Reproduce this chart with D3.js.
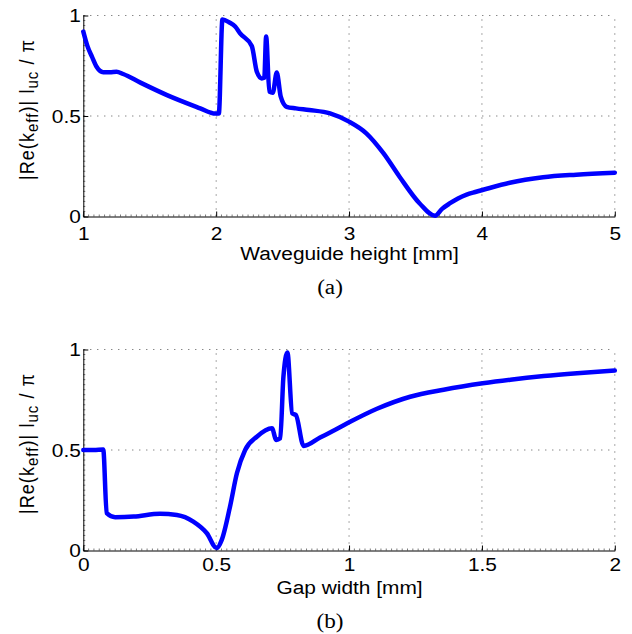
<!DOCTYPE html>
<html>
<head>
<meta charset="utf-8">
<script src="https://cdn.jsdelivr.net/npm/d3@7"></script>
<style>
  body { margin: 0; background: #fff; }
  text { font-family: "Liberation Sans", Arial, sans-serif; fill: #000; }
  .cap { font-family: "Liberation Serif", "Times New Roman", serif; }
</style>
</head>
<body>
<div id="chart"></div>
<script>
// panel (a): waveguide height sweep
var heightX = [1.0, 1.03, 1.065, 1.10, 1.15, 1.2, 1.25, 1.30, 1.43, 1.63, 1.88, 1.98, 2.02,
  2.047, 2.10, 2.143, 2.18, 2.268, 2.306, 2.343, 2.362, 2.376, 2.40, 2.426, 2.456, 2.486, 2.53,
  2.60, 2.70, 2.857, 3.0, 3.13, 3.26, 3.38, 3.53, 3.647, 3.70, 3.76, 3.82, 3.885, 3.95, 4.01,
  4.21, 4.46, 4.71, 5.0];
var heightY = [0.92, 0.85, 0.795, 0.745, 0.718, 0.718, 0.72, 0.709, 0.666, 0.604, 0.538, 0.513, 0.512,
  0.98, 0.965, 0.945, 0.911, 0.848, 0.72, 0.687, 0.69, 0.895, 0.621, 0.616, 0.716, 0.596, 0.546,
  0.538, 0.53, 0.513, 0.472, 0.414, 0.314, 0.198, 0.066, 0.004, 0.038, 0.066, 0.09, 0.109, 0.122, 0.133,
  0.168, 0.195, 0.208, 0.218];

// panel (b): gap width sweep
var gapX = [0.0, 0.04, 0.075, 0.088, 0.12, 0.19, 0.289, 0.352, 0.414, 0.465, 0.502, 0.521, 0.552,
  0.578, 0.609, 0.653, 0.71, 0.726, 0.741, 0.753, 0.768, 0.786, 0.80, 0.829, 0.891, 0.95, 1.004,
  1.105, 1.23, 1.356, 1.503, 1.607, 1.733, 1.858, 2.0];
var gapY = [0.5, 0.5, 0.503, 0.186, 0.166, 0.169, 0.183, 0.177, 0.144, 0.086, 0.012, 0.053, 0.218,
  0.384, 0.5, 0.566, 0.608, 0.55, 0.558, 0.864, 0.985, 0.682, 0.674, 0.52, 0.562, 0.602, 0.64,
  0.705, 0.765, 0.80, 0.832, 0.85, 0.868, 0.882, 0.895];

var yTicks = [0, 0.5, 1];
var heightTicks = [1, 2, 3, 4, 5];
var gapTicks = [0, 0.5, 1, 1.5, 2];

var W = 632, H = 634;
var SX = 1.16; // the figure text is a little wider than tall
var svg = d3.select("#chart").append("svg").attr("width", W).attr("height", H);

var panels = [
  {x: heightX, y: heightY, dom: [1, 5], ticks: heightTicks, minor: 0.04, tickY: 23.5,
   top: 15.5, bottom: 216.5, xlabel: "Waveguide height [mm]", cap: "(a)"},
  {x: gapX, y: gapY, dom: [0, 2], ticks: gapTicks, minor: 0.02, tickY: 21,
   top: 349.5, bottom: 550.5, xlabel: "Gap width [mm]", cap: "(b)"}
];

var left = 83.3, right = 614.8;

function wideText(g, x, y) {
  return g.append("g").attr("transform", "translate(" + x + "," + y + ") scale(" + SX + ",1)")
    .append("text");
}

panels.forEach(function(p) {
  var x = d3.scaleLinear().domain(p.dom).range([left, right]);
  var y = d3.scaleLinear().domain([0, 1]).range([p.bottom, p.top]);
  var g = svg.append("g");

  // dotted grid
  g.selectAll("line.gx").data(p.ticks.slice(1)).enter().append("line")
    .attr("x1", function(d) { return x(d); }).attr("x2", function(d) { return x(d); })
    .attr("y1", p.bottom).attr("y2", p.top)
    .attr("stroke", "#555").attr("stroke-width", 1).attr("stroke-dasharray", "1,6");
  g.selectAll("line.gy").data(yTicks.slice(1)).enter().append("line")
    .attr("y1", function(d) { return y(d); }).attr("y2", function(d) { return y(d); })
    .attr("x1", left).attr("x2", right)
    .attr("stroke", "#555").attr("stroke-width", 1).attr("stroke-dasharray", "1,6");

  // minor ticks
  var minorX = d3.range(p.dom[0], p.dom[1] + 1e-9, p.minor);
  g.selectAll("line.mx").data(minorX).enter().append("line")
    .attr("x1", function(d) { return x(d); }).attr("x2", function(d) { return x(d); })
    .attr("y1", p.bottom).attr("y2", p.bottom - 2)
    .attr("stroke", "#444").attr("stroke-width", 0.7);
  var minorY = d3.range(0, 1 + 1e-9, 0.025);
  g.selectAll("line.my").data(minorY).enter().append("line")
    .attr("y1", function(d) { return y(d); }).attr("y2", function(d) { return y(d); })
    .attr("x1", left).attr("x2", left + 2)
    .attr("stroke", "#444").attr("stroke-width", 0.7);

  // axes
  var xa = d3.axisBottom(x).tickValues(p.ticks).tickSizeInner(-5).tickSizeOuter(0)
    .tickFormat(d3.format("~g"));
  var ya = d3.axisLeft(y).tickValues(yTicks).tickSizeInner(-5).tickSizeOuter(0)
    .tickFormat(d3.format("~g"));
  var gx = g.append("g").attr("transform", "translate(0," + p.bottom + ")").call(xa);
  var gy = g.append("g").attr("transform", "translate(" + left + ",0)").call(ya);
  [gx, gy].forEach(function(a) {
    a.select(".domain").attr("stroke", "#000").attr("stroke-width", 1);
    a.selectAll(".tick line").attr("stroke", "#000");
    a.selectAll(".tick text").style("font-size", "18px")
      .style("font-family", "'Liberation Sans', Arial, sans-serif").attr("fill", "#000")
      .attr("transform", "scale(" + SX + ",1)");
  });
  gx.selectAll(".tick text").attr("dy", null).attr("y", p.tickY);
  gy.selectAll(".tick text").attr("x", -2.5 / SX).attr("dy", "0.35em");

  // curve
  var pts = p.x.map(function(v, i) { return [v, p.y[i]]; });
  g.append("path").datum(pts)
    .attr("d", d3.line().x(function(d) { return x(d[0]); }).y(function(d) { return y(d[1]); })
      .curve(d3.curveMonotoneX))
    .attr("fill", "none").attr("stroke", "#0000ff").attr("stroke-width", 4.5)
    .attr("stroke-linejoin", "round").attr("stroke-linecap", "round");

  // x label
  wideText(g, (left + right) / 2 + 0.5, p.bottom + 43.5)
    .attr("text-anchor", "middle").style("font-size", "18px").text(p.xlabel);

  // caption
  wideText(g, 330, p.bottom + 77)
    .attr("class", "cap").attr("text-anchor", "middle").style("font-size", "20px").text(p.cap);

  // y label with subscripts
  var cy = (p.top + p.bottom) / 2 - 6;
  var t = g.append("g").attr("transform", "translate(33.5," + cy + ") scale(" + SX + ",1) rotate(-90)")
    .append("text").attr("text-anchor", "middle").style("font-size", "18px")
    .attr("textLength", 140).attr("lengthAdjust", "spacing");
  t.append("tspan").text("|Re(k");
  t.append("tspan").attr("baseline-shift", "-28%").style("font-size", "15px").text("eff");
  t.append("tspan").text(")| l");
  t.append("tspan").attr("baseline-shift", "-28%").style("font-size", "15px").text("uc");
  t.append("tspan").text(" / \u03c0");
});
</script>
</body>
</html>
